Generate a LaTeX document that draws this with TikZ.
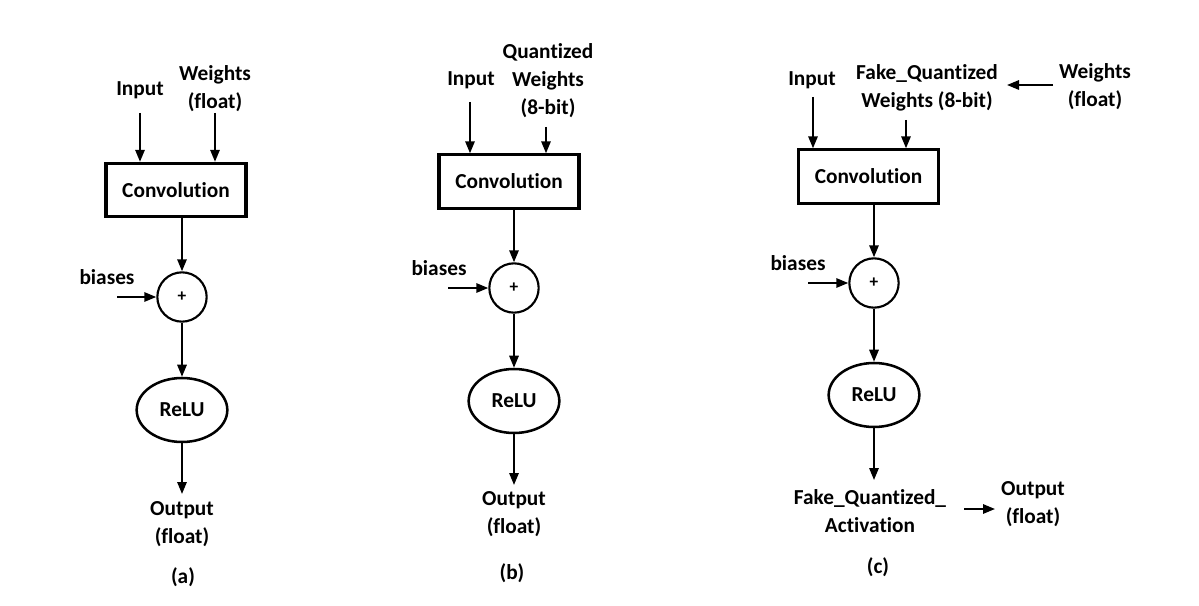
\documentclass[tikz,border=0pt]{standalone}
\usepackage{fontspec}
\setmainfont{Carlito}[RawFeature={-liga;-clig;-calt;-dlig}]
\usetikzlibrary{arrows.meta,shapes.geometric}
\newcommand{\nl}{\kern0pt }
\begin{document}
\begin{tikzpicture}[x=0.75pt,y=-0.75pt,
 txt/.style={font=\fontsize{16}{21}\selectfont\bfseries, align=center, inner sep=0pt},
 box/.style={draw, line width=2.3pt, minimum width=105pt, minimum height=40pt, inner sep=0pt, font=\fontsize{16}{21}\selectfont\bfseries},
 sum/.style={draw, circle, line width=1.6pt, minimum size=37pt, inner sep=0pt, font=\fontsize{13}{15}\selectfont\bfseries},
 act/.style={draw, ellipse, line width=1.9pt, minimum width=68pt, minimum height=48pt, inner sep=0pt, font=\fontsize{16}{21}\selectfont\bfseries},
 arr/.style={-{Triangle[length=9pt,width=7pt]}, line width=1.5pt}
]
\useasboundingbox (0,0) rectangle (1199,606);

% ---------- (a)
\node[box] (cA) at (176,190) {Convolut\nl ion};
\node[txt] (inA) at (140,90) {Input};
\node[txt] (wA) at (215,89) {Weights\\(float)};
\coordinate (inAt) at (140,113);
\coordinate (wAt) at (215,113);
\node[sum] (sA) at (182,297) {+};
\node[txt] (bA) at (107,277) {biases};
\coordinate (bAt) at (117,297);
\node[act] (rA) at (182,410) {ReLU};
\node[txt] (oA) at (182,524) {Output\\(float)};
\coordinate (oAt) at (182,494);
\node[txt] (capA) at (183,577) {(a)};
\draw[arr] (inAt) -- (inAt |- cA.north);
\draw[arr] (wAt) -- (wAt |- cA.north);
\draw[arr] (sA.north |- cA.south) -- (sA.north);
\draw[arr] (bAt) -- (sA.west);
\draw[arr] (sA.south) -- (rA.north);
\draw[arr] (rA.south) -- (oAt);

% ---------- (b)
\node[box] (cB) at (509,181.5) {Convolut\nl ion};
\node[txt] (inB) at (471,80) {Input};
\node[txt] (qB) at (548,80.5) {Quant\nl ized\\Weights\\(8-bit)};
\coordinate (inBt) at (470,102);
\coordinate (qBt) at (546,127);
\node[sum] (sB) at (514,288) {+};
\node[txt] (bB) at (439,268) {biases};
\coordinate (bBt) at (448,288);
\node[act] (rB) at (514,401) {ReLU};
\node[txt] (oB) at (514,514.5) {Output\\(float)};
\coordinate (oBt) at (514,485);
\node[txt] (capB) at (512,573) {(b)};
\draw[arr] (inBt) -- (inBt |- cB.north);
\draw[arr] (qBt) -- (qBt |- cB.north);
\draw[arr] (sB.north |- cB.south) -- (sB.north);
\draw[arr] (bBt) -- (sB.west);
\draw[arr] (sB.south) -- (rB.north);
\draw[arr] (rB.south) -- (oBt);

% ---------- (c)
\node[box] (cC) at (868.5,176.5) {Convolut\nl ion};
\node[txt] (inC) at (812,80) {Input};
\node[txt] (fwC) at (927,87.5) {Fake\_Quant\nl ized\\Weights (8-bit)};
\node[txt] (wfC) at (1095,86.5) {Weights\\(float)};
\coordinate (inCt) at (813,97);
\coordinate (fwCt) at (906,120);
\coordinate (wfCt) at (1053,85);
\coordinate (fwCh) at (1007,85);
\node[sum] (sC) at (874,283) {+};
\node[txt] (bC) at (798,263) {biases};
\coordinate (bCt) at (808,283);
\node[act] (rC) at (874,395) {ReLU};
\node[txt] (faC) at (870,511) {Fake\_Quant\nl ized\_\\Act\nl ivat\nl ion};
\coordinate (faCt) at (874,480);
\node[txt] (oC) at (1033,504) {Output\\(float)};
\coordinate (oCs) at (964,509);
\coordinate (oCh) at (995,509);
\node[txt] (capC) at (878,567) {(c)};
\draw[arr] (inCt) -- (inCt |- cC.north);
\draw[arr] (fwCt) -- (fwCt |- cC.north);
\draw[arr] (wfCt) -- (fwCh);
\draw[arr] (sC.north |- cC.south) -- (sC.north);
\draw[arr] (bCt) -- (sC.west);
\draw[arr] (sC.south) -- (rC.north);
\draw[arr] (rC.south) -- (faCt);
\draw[arr] (oCs) -- (oCh);
\end{tikzpicture}
\end{document}
